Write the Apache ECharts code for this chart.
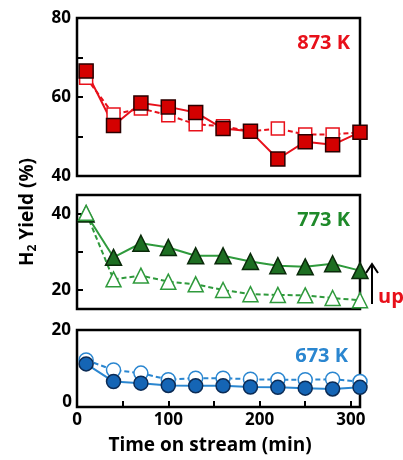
<!DOCTYPE html>
<html>
<head>
<meta charset="utf-8">
<script src="https://cdn.jsdelivr.net/npm/echarts@6/dist/echarts.min.js"></script>
<style>
html, body { margin: 0; padding: 0; background: #fff; }
#chart { width: 403px; height: 460px; }
</style>
</head>
<body>
<div id="chart"></div>
<script>
// time on stream (min)
var times = [10, 40, 70, 100, 130, 160, 190, 220, 250, 280, 310];

// H2 yield (%), filled = solid line, open = dashed line
var yield873Filled = [66.6, 52.8, 58.5, 57.5, 56.1, 52.0, 51.3, 44.3, 48.7, 47.9, 51.1];
var yield873Open   = [64.9, 55.6, 57.1, 55.4, 53.1, 52.6, 51.3, 52.0, 50.5, 50.5, 51.1];
var yield773Filled = [40.0, 28.6, 32.3, 31.2, 29.0, 29.0, 27.5, 26.4, 26.1, 26.9, 25.1];
var yield773Open   = [40.3, 22.8, 23.8, 22.2, 21.5, 20.0, 18.9, 18.7, 18.6, 17.9, 17.3];
var yield673Filled = [11.2, 6.6, 6.2, 5.6, 5.5, 5.5, 5.2, 5.1, 4.9, 4.7, 5.1];
var yield673Open   = [12.2, 9.6, 8.8, 7.1, 7.5, 7.5, 7.2, 7.1, 7.1, 7.2, 6.6];

// axis ticks / labels
var xTicks = [50, 100, 150, 200, 250, 300];
var xLabels = [0, 100, 200, 300];
var topTicks = [50, 60, 70];
var topLabels = [40, 60, 80];
var midTicks = [20, 30, 40];
var midLabels = [20, 40];
var botLabels = [20];
var botZeroLabel = [0];

var FONT = "'Open Sans', sans-serif";
var RED = "#e8101a", GREEN = "#2f9a3c", BLUE = "#2a86d0";

function pairs(arr) {
    return times.map(function (t, i) { return [t, arr[i]]; });
}

function xAx(idx, showLabels) {
    return {
        type: "value", gridIndex: idx, min: 0, max: 310,
        axisLine: { show: false },
        splitLine: { show: false },
        axisTick: {
            show: showLabels, inside: true, length: 6, customValues: xTicks,
            lineStyle: { color: "#000", width: 2 }
        },
        axisLabel: {
            show: showLabels, customValues: xLabels, margin: 5,
            showMinLabel: true, showMaxLabel: true,
            color: "#000", fontSize: 17, fontWeight: "bold", fontFamily: FONT
        }
    };
}

function yAx(idx, min, max, ticks, labels) {
    return {
        type: "value", gridIndex: idx, min: min, max: max, position: "left",
        axisLine: { show: false },
        splitLine: { show: false },
        axisTick: {
            show: ticks.length > 0, inside: true, length: 6, customValues: ticks,
            lineStyle: { color: "#000", width: 2 }
        },
        axisLabel: {
            customValues: labels, margin: 6,
            showMinLabel: true, showMaxLabel: true,
            color: "#000", fontSize: 17, fontWeight: "bold", fontFamily: FONT
        }
    };
}

function line(idx, data, symbol, size, lineColor, fill, border, dashed) {
    return {
        type: "line", xAxisIndex: idx, yAxisIndex: idx,
        data: pairs(data), symbol: symbol, symbolSize: size,
        lineStyle: { color: lineColor, width: 2, type: dashed ? [5, 3] : "solid" },
        itemStyle: { color: fill, borderColor: border, borderWidth: 1.5 },
        emphasis: { disabled: true },
        animation: false
    };
}

var grid = { left: 77, width: 283, show: true, borderColor: "#000", borderWidth: 2.5, backgroundColor: "transparent" };

// second left axis on the bottom panel only carries the "0" label, raised a little
var zeroAxis = yAx(2, 0, 20, [], botZeroLabel);
zeroAxis.offset = 0;
zeroAxis.axisLabel.verticalAlign = "bottom";
zeroAxis.axisLabel.lineHeight = 10;
zeroAxis.axisLabel.margin = 5;

var myChart = echarts.init(document.getElementById("chart"));
myChart.setOption({
    backgroundColor: "#fff",
    grid: [
        Object.assign({ top: 18, height: 158 }, grid),
        Object.assign({ top: 195, height: 114 }, grid),
        Object.assign({ top: 330, height: 77 }, grid)
    ],
    xAxis: [xAx(0, false), xAx(1, false), xAx(2, true)],
    yAxis: [
        yAx(0, 40, 80, topTicks, topLabels),
        yAx(1, 15, 45, midTicks, midLabels),
        yAx(2, 0, 20, [], botLabels),
        zeroAxis
    ],
    series: [
        line(0, yield873Open, "rect", 13, RED, "#fff", RED, true),
        line(0, yield873Filled, "rect", 14, RED, "#d40000", "#2a0000", false),
        line(1, yield773Filled, "triangle", 16, GREEN, "#1d6e22", "#0a2a0a", false),
        line(1, yield773Open, "triangle", 15, GREEN, "#fff", GREEN, true),
        line(2, yield673Open, "circle", 14, BLUE, "#fff", BLUE, true),
        line(2, yield673Filled, "circle", 14, BLUE, "#1565b5", "#0b2b55", false)
    ],
    graphic: [
        { type: "text", x: 350, y: 43, style: { text: "873 K", fill: RED, font: "bold 20px " + FONT, align: "right", verticalAlign: "middle", textAlign: "right", textVerticalAlign: "middle" } },
        { type: "text", x: 350, y: 220, style: { text: "773 K", fill: "#1f8a2a", font: "bold 20px " + FONT, align: "right", verticalAlign: "middle", textAlign: "right", textVerticalAlign: "middle" } },
        { type: "text", x: 348, y: 356, style: { text: "673 K", fill: BLUE, font: "bold 20px " + FONT, align: "right", verticalAlign: "middle", textAlign: "right", textVerticalAlign: "middle" } },
        { type: "text", x: 378, y: 297, style: { text: "up", fill: RED, font: "bold 20px " + FONT, align: "left", verticalAlign: "middle", textAlign: "left", textVerticalAlign: "middle" } },
        { type: "line", shape: { x1: 372, y1: 304, x2: 372, y2: 265 }, style: { stroke: "#000", lineWidth: 2 } },
        { type: "polyline", shape: { points: [[366, 273], [372, 264], [378, 273]] }, style: { stroke: "#000", lineWidth: 2, fill: null } },
        {
            type: "text", x: 28, y: 212, rotation: Math.PI / 2,
            style: {
                text: "{n|H}{s|2}{n| Yield (%)}",
                align: "center", verticalAlign: "middle", textAlign: "center", textVerticalAlign: "middle",
                rich: {
                    n: { fontSize: 19, fontWeight: "bold", fontFamily: FONT, fill: "#000", color: "#000" },
                    s: { fontSize: 12, fontWeight: "bold", fontFamily: FONT, fill: "#000", color: "#000", padding: [10, 0, 0, 0] }
                }
            }
        },
        { type: "text", x: 210, y: 446, style: { text: "Time on stream (min)", fill: "#000", font: "bold 19px " + FONT, align: "center", verticalAlign: "middle", textAlign: "center", textVerticalAlign: "middle" } }
    ]
});
</script>
</body>
</html>
